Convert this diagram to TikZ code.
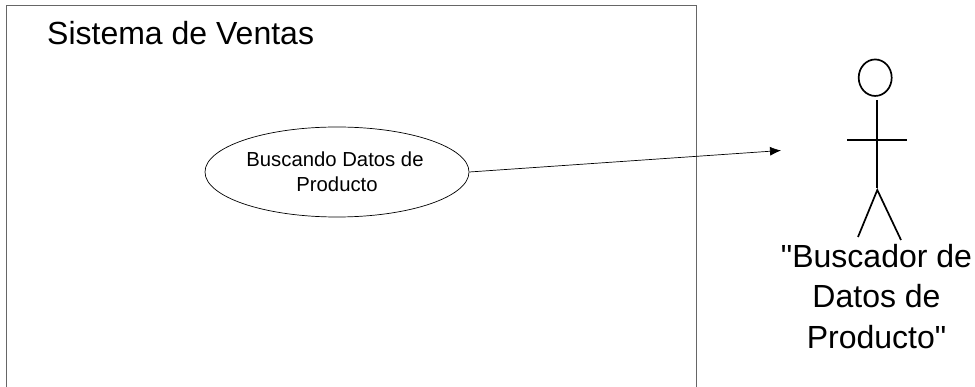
\documentclass[tikz,border=0pt]{standalone}
\usepackage{fontspec}
\setmainfont{Liberation Sans}[Ligatures=TeXOff]
\usetikzlibrary{shapes.geometric,arrows.meta}
\tikzset{
  usecase/.style={draw=black,line width=0.7pt,ellipse,inner sep=0pt,minimum width=264pt,minimum height=90pt,align=center,font=\fontsize{20.3}{25}\selectfont},
  actorline/.style={draw=black,line width=1.7pt},
  boxline/.style={draw=black!60,line width=1.5pt},
  assoc/.style={draw=black,line width=0.7pt,-{Latex[length=11pt,width=9pt]}},
  bigtext/.style={font=\fontsize{32}{40.5}\selectfont,inner sep=0pt,align=center}
}
\begin{document}
\begin{tikzpicture}[x=1pt,y=-1pt]
\useasboundingbox (0,0) rectangle (975,387);
\path[fill=white] (0,0) rectangle (975,387);
\begin{scope}
\clip (0,0) rectangle (975,387);
\draw[boxline] (6.5,400) -- (6.5,5.7) -- (696.7,5.7) -- (696.7,400);
\end{scope}
\node[bigtext,anchor=west] (title) at (47,33) {Sistema de Ventas};
\node[usecase] (uc) at (337,172) {Buscando Datos de\hspace*{4pt}\\Producto};
\coordinate (target) at (781,150.5);
\draw[assoc] (uc.east) -- (target);
\node[draw=black,line width=1.7pt,ellipse,minimum width=33pt,minimum height=36.5pt,inner sep=0pt] (head) at (875.2,77.7) {};
\coordinate (neck) at (877.3,100.5);
\coordinate (hip) at (877.3,188);
\coordinate (crotch) at (877.3,190);
\coordinate (handl) at (847,140.3);
\coordinate (handr) at (907,140.3);
\coordinate (footl) at (858,237);
\coordinate (footr) at (901,240);
\draw[actorline] (neck) -- (hip);
\draw[actorline] (handl) -- (handr);
\draw[actorline] (footl) -- (crotch) -- (footr);
\node[bigtext] (actor) at (876.5,296.5) {"Buscador de\\Datos de\\Producto"};
\end{tikzpicture}
\end{document}
